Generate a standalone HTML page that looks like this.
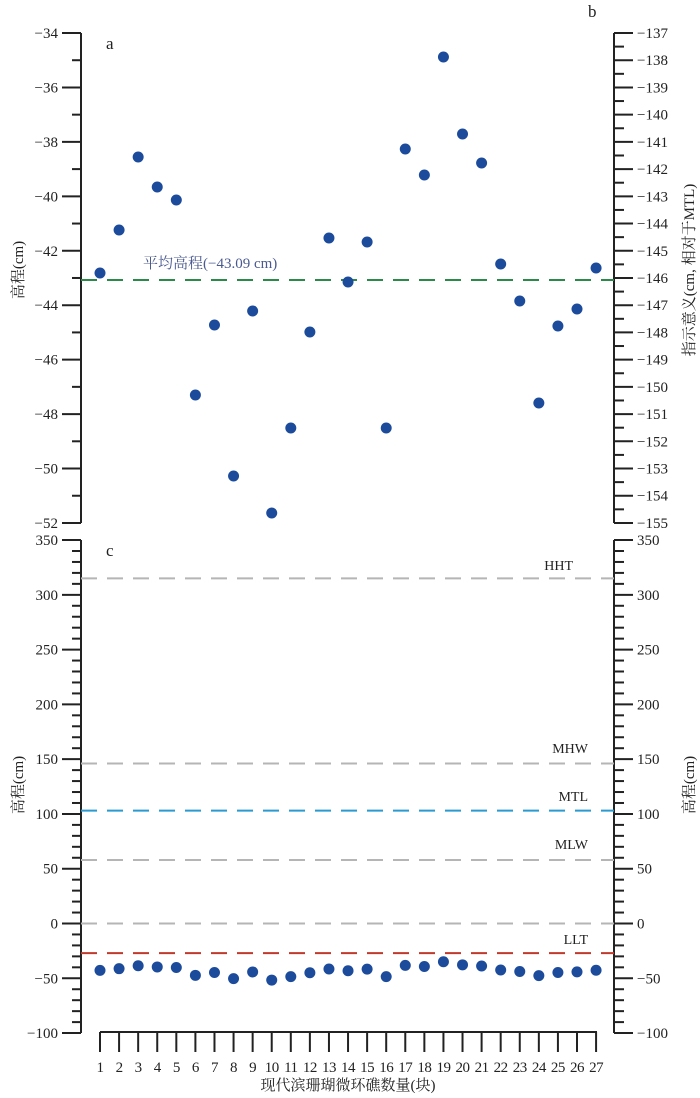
<!DOCTYPE html>
<html><head><meta charset="utf-8"><style>
html,body{margin:0;padding:0;background:#fff}
svg{display:block}
text{font-family:"Liberation Serif","Noto Serif CJK SC",serif;fill:#222}
</style></head><body>
<svg id="s" width="700" height="1098" viewBox="0 0 700 1098" xmlns="http://www.w3.org/2000/svg">
<g stroke="#222" stroke-width="2" fill="none">
<line x1="81" y1="33" x2="81" y2="523"/>
<line x1="614" y1="33" x2="614" y2="523"/>
<line x1="81" y1="540" x2="81" y2="1033"/>
<line x1="614" y1="540" x2="614" y2="1033"/>
<line x1="100" y1="1032" x2="597" y2="1032"/>
</g>
<g id="g"></g>
<text x="106" y="49" font-size="17">a</text>
<text x="588" y="17" font-size="17">b</text>
<text x="106" y="556" font-size="17">c</text>
<text x="143" y="268" font-size="15" style="fill:#4a5a90">平均高程(−43.09 cm)</text>
<text x="573" y="570" font-size="14" text-anchor="end">HHT</text>
<text x="588" y="753" font-size="14" text-anchor="end">MHW</text>
<text x="588" y="801" font-size="14" text-anchor="end">MTL</text>
<text x="588" y="849" font-size="14" text-anchor="end">MLW</text>
<text x="588" y="944" font-size="14" text-anchor="end">LLT</text>
<text x="348" y="1090" font-size="15" text-anchor="middle">现代滨珊瑚微环礁数量(块)</text>
<text transform="translate(23,270) rotate(-90)" font-size="15" text-anchor="middle">高程(cm)</text>
<text transform="translate(23,785) rotate(-90)" font-size="15" text-anchor="middle">高程(cm)</text>
<text transform="translate(694,270) rotate(-90)" font-size="15" text-anchor="middle">指示意义(cm, 相对于MTL)</text>
<text transform="translate(694,785) rotate(-90)" font-size="15" text-anchor="middle">高程(cm)</text>
</svg>
<script>
var g=document.getElementById('g'),h='';
function L(x1,y1,x2,y2,c,w,d){h+='<line x1="'+x1+'" y1="'+y1+'" x2="'+x2+'" y2="'+y2+'" stroke="'+c+'" stroke-width="'+w+'"'+(d?' stroke-dasharray="'+d+'"':'')+'/>';}
function T(x,y,s,a,f){h+='<text x="'+x+'" y="'+y+'" font-size="'+(f||15)+'" text-anchor="'+a+'">'+s+'</text>';}
var k=27.22;
for(var i=0;i<=18;i++){var y=33+i*k;var maj=i%2==0;
 L(maj?62:72,y,81,y,'#222',2);
 if(maj)T(58,y+5,'−'+(34+i),'end');}
for(var i=0;i<=36;i++){var y=33+i*0.5*k;var maj=i%2==0;
 L(614,y,maj?633:624,y,'#222',2);
 if(maj)T(637,y+5,'−'+(137+i/2),'start');}
var s=1.0956,z=923.5;
for(var v=-100;v<=350;v+=10){var y=z-v*s,maj=v%50==0;
 L(maj?62:72,y,81,y,'#222',2);L(614,y,maj?633:624,y,'#222',2);
 if(maj){var t=v<0?'−'+(-v):''+v;T(58,y+5,t,'end');T(637,y+5,t,'start');}}
var dx=19.08;
for(var i=1;i<=27;i++){var x=100+(i-1)*dx;L(x,1032,x,1052,'#222',2);}
var ys=[273,230,157,187,200,395,325,476,311,513,428,332,238,282,242,428,149,175,57,134,163,264,301,403,326,309,268];
L(81,280,614,280,'#2a8a4a',2,'16 10');
var lines=[[315,'#b5b5b5'],[146,'#b5b5b5'],[103,'#2a9ad0'],[58,'#b5b5b5'],[0,'#b5b5b5'],[-27,'#c0392b']];
lines.forEach(function(l){var y=z-l[0]*s;L(81,y,614,y,l[1],2,'16 10');});
var lab='';
for(var i=0;i<27;i++){var x=100+i*dx;var y=ys[i];var v=-34-(y-33)/k;
 h+='<circle cx="'+x+'" cy="'+y+'" r="5.5" fill="#1c4b9c"/>';
 h+='<circle cx="'+x+'" cy="'+(z-v*s)+'" r="5.5" fill="#1c4b9c"/>';
 lab+='<text x="'+x+'" y="1072" font-size="15" text-anchor="middle" letter-spacing="-0.5">'+(i+1)+'</text>';}
h+=lab;
g.innerHTML=h;
</script>
</body></html>
